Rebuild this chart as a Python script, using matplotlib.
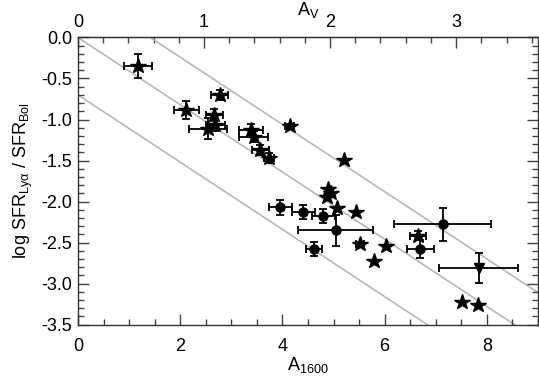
import numpy as np
import matplotlib
matplotlib.use("Agg")
import matplotlib.pyplot as plt
from matplotlib.ticker import MultipleLocator, FixedLocator

plt.rcParams['font.family'] = ['Liberation Sans', 'DejaVu Sans']
plt.rcParams['mathtext.fontset'] = 'custom'
plt.rcParams['mathtext.rm'] = 'Liberation Sans'
plt.rcParams['mathtext.it'] = 'Liberation Sans'

# stars with error bars: A1600, log ratio, xerr, yerr
star_x = [1.17, 2.12, 2.77, 2.67, 2.54, 2.69, 3.39, 3.44, 3.57, 3.73, 4.14, 6.65, 5.51]
star_y = [-0.35, -0.88, -0.70, -0.945, -1.11, -1.07, -1.13, -1.21, -1.37, -1.47, -1.08, -2.42, -2.52]
star_xerr = [0.27, 0.25, 0.17, 0.17, 0.37, 0.18, 0.23, 0.28, 0.16, 0.10, 0.08, 0.16, 0.08]
star_yerr = [0.15, 0.11, 0.065, 0.07, 0.13, 0.065, 0.07, 0.07, 0.06, 0.06, 0.03, 0.055, 0.03]

# stars without error bars
star2_x = [5.20, 4.90, 4.96, 4.87, 5.07, 5.44, 6.02, 5.79, 7.52, 7.82]
star2_y = [-1.49, -1.85, -1.90, -1.94, -2.08, -2.13, -2.54, -2.73, -3.23, -3.26]

# filled circles
circ_x = [3.96, 4.41, 4.80, 5.04, 4.62, 7.14, 6.70]
circ_y = [-2.07, -2.13, -2.18, -2.35, -2.58, -2.28, -2.58]
circ_xerr = [0.23, 0.22, 0.22, 0.73, 0.15, 0.95, 0.26]
circ_yerr = [0.09, 0.085, 0.085, 0.19, 0.09, 0.20, 0.115]

# downward triangle
tri_x = [7.84]
tri_y = [-2.81]
tri_xerr = [0.77]
tri_yerr = [0.18]

# reference lines: log ratio = offset + slope * A1600
line_slope = -0.41
line_offsets = [0.58, 0.0, -0.7]

av_factor = 2.466  # A1600 / AV
av_ticks = [0, 1, 2, 3]

fig = plt.figure(figsize=(5.39, 3.78), dpi=100)
ax = fig.add_axes([0.1447, 0.1415, 0.8534, 0.7593])

xx = np.array([0, 9.0])
for off in line_offsets:
    ax.plot(xx, off + line_slope * xx, color='#b8b8b8', lw=1.2, zorder=1)

eb = dict(ecolor='black', elinewidth=1.3, capsize=3, capthick=1.3, color='black', ls='none', zorder=3)
ax.errorbar(star_x, star_y, xerr=star_xerr, yerr=star_yerr, marker='*', ms=11.5, **eb)
ax.plot(star2_x, star2_y, ls='none', marker='*', ms=11.5, color='black', zorder=3)
ax.errorbar(circ_x, circ_y, xerr=circ_xerr, yerr=circ_yerr, marker='o', ms=6.5, **eb)
ax.errorbar(tri_x, tri_y, xerr=tri_xerr, yerr=tri_yerr, marker='v', ms=7, **eb)

ax.set_xlim(0, 9)
ax.set_ylim(-3.5, 0.0)
ax.xaxis.set_major_locator(MultipleLocator(2))
ax.xaxis.set_minor_locator(MultipleLocator(0.5))
ax.yaxis.set_major_locator(MultipleLocator(0.5))
ax.yaxis.set_minor_locator(MultipleLocator(0.1))
ax.yaxis.set_major_formatter(matplotlib.ticker.FormatStrFormatter('%.1f'))
ax.tick_params(which='both', direction='in', top=False, right=True, labelsize=13, color='#444444')
ax.tick_params(which='major', length=8, width=1)
ax.tick_params(which='minor', length=4, width=1)
ax.tick_params(axis='x', pad=10)
ax.tick_params(axis='y', pad=4)

ax.set_xlabel(r'A$_{\rm 1600}$', fontsize=13, labelpad=0)
ax.set_ylabel('log SFR$_{\\rm Lyα}$ / SFR$_{\\rm Bol}$', fontsize=13, labelpad=5)

top = ax.secondary_xaxis('top', functions=(lambda a: a / av_factor, lambda v: v * av_factor))
top.xaxis.set_major_locator(FixedLocator(av_ticks))
top.xaxis.set_minor_locator(FixedLocator(np.arange(0.2, 3.7, 0.2)))
top.tick_params(which='both', direction='in', labelsize=13, color='#444444')
top.tick_params(which='major', length=8, width=1, pad=5)
top.tick_params(which='minor', length=4, width=1)
top.set_xlabel(r'A$_{\rm V}$', fontsize=13, labelpad=-1)

for s in ax.spines.values():
    s.set_linewidth(1)
    s.set_color('#333333')

fig.savefig('out.png', dpi=100)
